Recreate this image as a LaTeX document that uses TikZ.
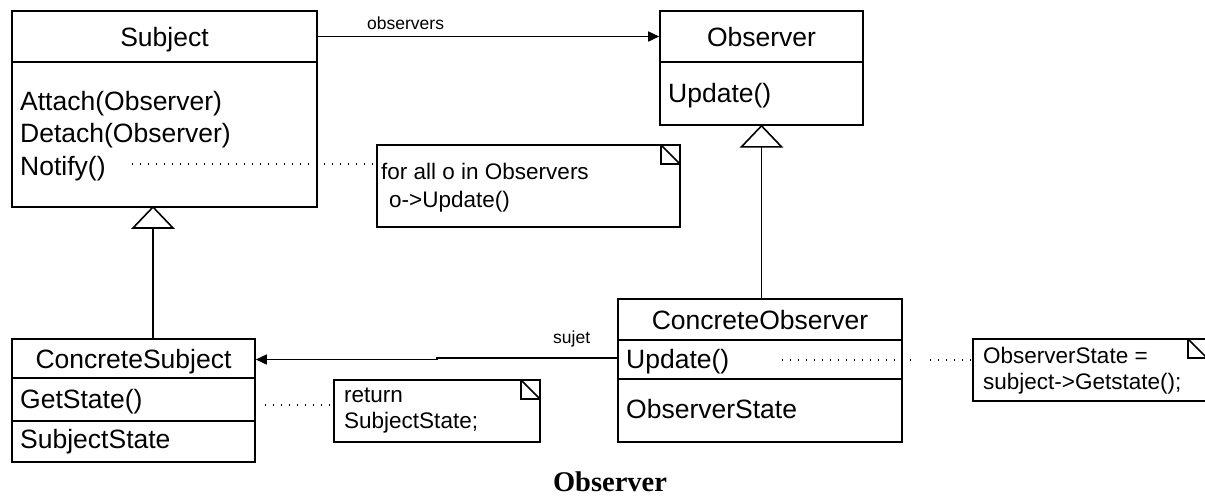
\documentclass[tikz,border=0pt]{standalone}
\usepackage{fontspec}
\usetikzlibrary{arrows.meta}
\newfontfamily\umlfam{Liberation Sans}
\newfontfamily\titlefam{Liberation Serif}
\newcommand\boxfont{\umlfam\fontsize{26.5pt}{30pt}\selectfont}
\newcommand\notefont{\umlfam\fontsize{22.5pt}{26pt}\selectfont}
\newcommand\lblfont{\umlfam\fontsize{17.5pt}{20pt}\selectfont}
\newcommand\ttlfont{\titlefam\bfseries\fontsize{28.5pt}{32pt}\selectfont}
\tikzset{
  cls/.style={draw, line width=1.6pt, inner sep=0pt, font=\boxfont, text height=19pt, text depth=0pt},
  mtxt/.style={inner sep=0pt, anchor=west, font=\boxfont, text height=19pt, text depth=0pt},
  ntxt/.style={inner sep=0pt, anchor=west, font=\notefont, text height=16pt, text depth=0pt},
  ltxt/.style={inner sep=0pt, anchor=west, font=\lblfont, text height=12.5pt, text depth=0pt},
  notebox/.style={draw, line width=1.6pt, inner sep=0pt,
    path picture={\draw[line width=1.6pt]
      ([xshift=-19pt]path picture bounding box.north east) -- ++(0,-19pt) -- ++(19pt,0)
      ([xshift=-19pt]path picture bounding box.north east) -- ++(19pt,-19pt);}},
  assoc/.style={line width=1.6pt, -{Triangle[length=11pt,width=10pt]}},
  gen/.style={line width=1.6pt},
  dots/.style={line width=1.3pt, dash pattern=on 1.3pt off 6.7pt},
}
\begin{document}
\begin{tikzpicture}[x=1pt,y=-1pt]
\useasboundingbox (0,0) rectangle (1205,496);
\clip (0,0) rectangle (1205,496);
% Subject
\node[cls, minimum width=305pt, minimum height=51pt] (subjH) at (164.5,36.5) {Subject};
\node[cls, minimum width=305pt, minimum height=145pt] (subjB) at (164.5,134.5) {};
\node[mtxt] (att) at (20,101) {Attach(Observer)};
\node[mtxt] (det) at (20,133) {Detach(Observer)};
\node[mtxt] (ntf) at (20,165.5) {Notify()};
% Observer
\node[cls, minimum width=203pt, minimum height=51pt] (obsH) at (761.5,36.5) {Observer};
\node[cls, minimum width=203pt, minimum height=63pt] (obsB) at (761.5,93.5) {};
\node[mtxt] (obsUp) at (668,92.5) {Update()};
% ConcreteSubject
\node[cls, minimum width=243pt, minimum height=39pt] (csH) at (133.5,358.5) {ConcreteSubject};
\node[cls, minimum width=243pt, minimum height=43pt] (csM) at (133.5,399.5) {};
\node[cls, minimum width=243pt, minimum height=41pt] (csA) at (133.5,441.5) {};
\node[mtxt] (gs) at (20,399) {GetState()};
\node[mtxt] (ss) at (20,439) {SubjectState};
% ConcreteObserver
\node[cls, minimum width=284pt, minimum height=41pt] (coH) at (760,319.5) {ConcreteObserver};
\node[cls, minimum width=284pt, minimum height=39pt] (coM) at (760,359.5) {};
\node[cls, minimum width=284pt, minimum height=63pt] (coA) at (760,410.5) {};
\node[mtxt] (coUp) at (626,359) {Update()};
\node[mtxt] (os) at (626,408.5) {ObserverState};
% Notes
\node[notebox, minimum width=303pt, minimum height=82pt] (n1) at (528.5,186) {};
\node[ntxt] (n1a) at (381,171.5) {for all o in Observers};
\node[ntxt] (n1b) at (389,199.5) {o->Update()};
\node[notebox, minimum width=206pt, minimum height=62pt] (n2) at (437,411) {};
\node[ntxt] (n2a) at (344,394) {return};
\node[ntxt] (n2b) at (344,420.5) {SubjectState;};
\node[notebox, minimum width=234pt, minimum height=62pt] (n3) at (1090,370) {};
\node[ntxt] (n3a) at (983,355) {ObserverState =};
\node[ntxt] (n3b) at (983,381.5) {subject->Getstate();};
% Generalizations
\coordinate (t1) at (153,207);
\draw[gen, fill=white] (t1) -- ++(-20pt,-21pt) -- ++(40pt,0) -- cycle;
\coordinate (t1b) at (153,228);
\draw[gen] (t1b) -- (t1b |- csH.north);
\draw[gen, fill=white] (obsB.south) -- ++(-20pt,-21pt) -- ++(40pt,0) -- cycle;
\coordinate (t2b) at (761.5,146);
\draw[gen] (t2b) -- (t2b |- coH.north);
% Associations
\draw[assoc] (subjH.east) -- (obsH.west);
\node[ltxt] (lobs) at (367,23.5) {observers};
\coordinate (j1) at (437,358);
\coordinate (j2) at (437,359.5);
\draw[assoc] ([yshift=1.5pt]coM.west) -- (j1) -- (j2) -- (j2 -| csH.east);
\node[ltxt] (lsuj) at (553,337) {sujet};
% Note links
\coordinate (d1) at (132,164);
\draw[dots] (d1) -- (d1 -| n1.west);
\coordinate (d2) at (265,405);
\draw[dots] (d2) -- (d2 -| n2.west);
\coordinate (d3) at (782,360);
\coordinate (d3e) at (912,360);
\coordinate (d3b) at (930,360);
\draw[dots] (d3) -- (d3e);
\draw[dots] (d3b) -- (d3b -| n3.west);
% Title
\node[inner sep=0pt, font=\ttlfont, text height=19pt, text depth=0pt] (title) at (610,481.5) {Observer};
\end{tikzpicture}
\end{document}
